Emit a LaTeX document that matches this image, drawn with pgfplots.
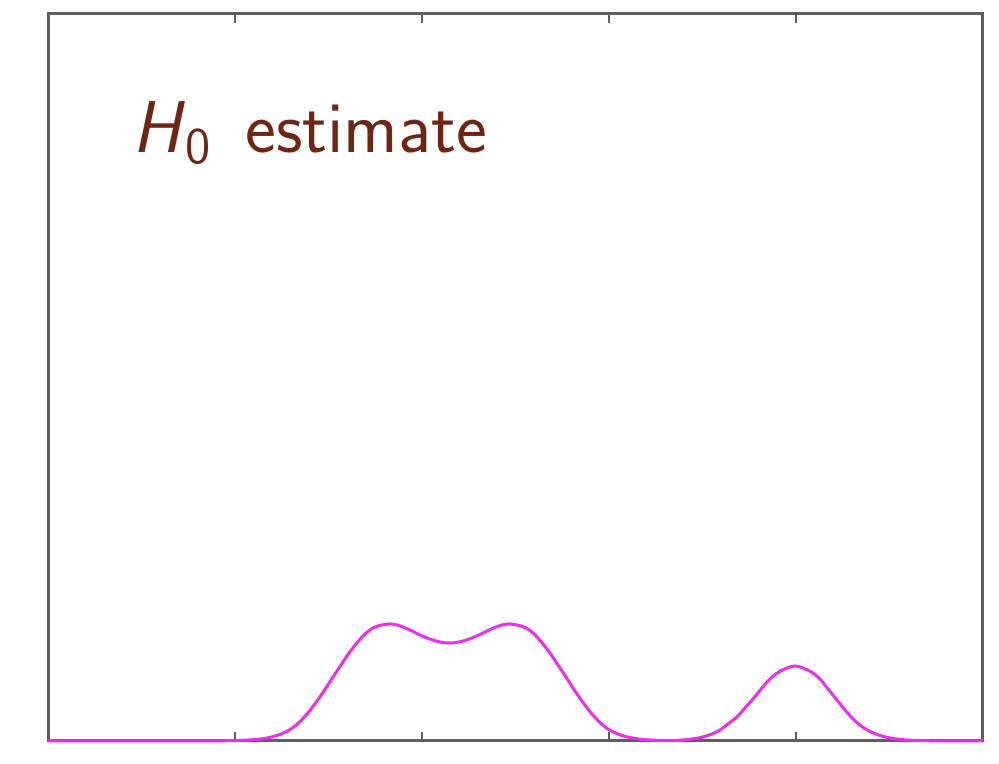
\documentclass[border=0pt]{standalone}
\usepackage{pgfplots}
\pgfplotsset{compat=1.18}
\usepackage{amsmath}

\definecolor{framegray}{RGB}{95,95,95}
\definecolor{curvemag}{RGB}{236,45,236}
\definecolor{titlebrown}{RGB}{112,36,18}

\begin{document}
\begin{tikzpicture}
\begin{axis}[
  scale only axis,
  width=280.5pt, height=218.1pt,
  xmin=0, xmax=5, ymin=0, ymax=727,
  axis line style={framegray, line width=0.9pt},
  xtick={1,2,3,4}, xticklabels={},
  ytick=\empty,
  tick align=inside,
  major tick length=2.7pt,
  every tick/.style={framegray, line width=0.45pt},
  xtick pos=both,
  clip=false,
]
% estimated density
\addplot[curvemag, line width=0.9pt, smooth] coordinates {
  (0,0) (0.5,0) (0.85,0) (0.968,0.3) (1.021,0.6) (1.075,1.0) (1.123,1.7)
  (1.166,2.8) (1.209,4.6) (1.251,7.3) (1.299,12) (1.342,18.5) (1.390,28)
  (1.433,38.5) (1.476,50) (1.519,62.5) (1.567,76) (1.610,88) (1.658,99.5)
  (1.701,108) (1.743,113.5) (1.786,116) (1.829,117) (1.866,116)
  (1.904,113.5) (1.947,110) (1.984,106.5) (2.027,103) (2.064,100.5)
  (2.107,98.6) (2.147,98) (2.187,98.6) (2.230,100.5) (2.267,103)
  (2.310,106.5) (2.348,110) (2.390,113.5) (2.428,116) (2.465,117)
  (2.508,116) (2.551,113.5) (2.594,108) (2.636,99.5) (2.684,88)
  (2.727,76) (2.775,62.5) (2.818,50) (2.861,38.5) (2.904,28) (2.952,18.5)
  (2.995,12) (3.043,7.3) (3.086,4.6) (3.128,2.8) (3.171,1.7) (3.219,1.0)
  (3.273,0.6) (3.326,0.5) (3.380,0.8) (3.433,1.8) (3.487,3.3) (3.551,7)
  (3.594,11) (3.636,17) (3.684,24) (3.727,33) (3.770,42) (3.818,53)
  (3.861,62) (3.904,68.5) (3.952,73) (3.995,75) (4.037,73)
  (4.086,68.5) (4.128,62) (4.171,52) (4.219,41) (4.262,31) (4.305,22)
  (4.348,15) (4.396,9.5) (4.449,5.5) (4.503,3) (4.556,1.6) (4.610,0.8)
  (4.717,0.2) (4.824,0) (5,0)
};
\node[anchor=base west, text=titlebrown, inner sep=0pt,
      font=\fontsize{22}{26}\selectfont\sffamily]
  at (axis cs:0.45,588) {$\textsf{\textit{H}}_{\textsf{0}}$\hspace{0.45em}estimate};
\end{axis}
\path ([shift={(-14.4pt,-0.9pt)}]current axis.south west)
  rectangle ([shift={(4.8pt,4.2pt)}]current axis.north east);
\end{tikzpicture}
\end{document}
